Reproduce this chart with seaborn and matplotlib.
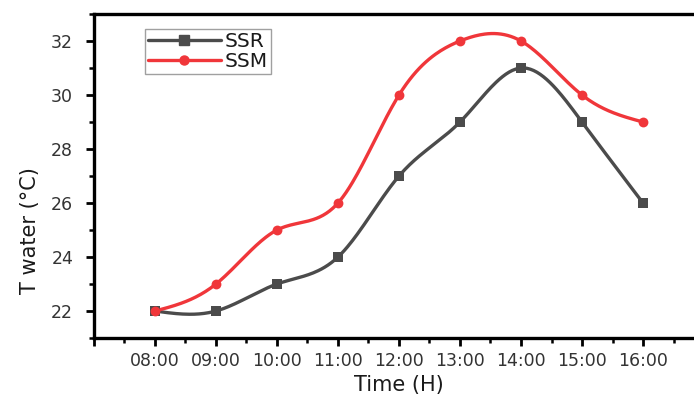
import numpy as np
import pandas as pd
import matplotlib
matplotlib.use("Agg")
import matplotlib.pyplot as plt
import seaborn as sns
from matplotlib.ticker import FixedLocator, FixedFormatter

hours = [8, 9, 10, 11, 12, 13, 14, 15, 16]
time_labels = ["08:00", "09:00", "10:00", "11:00", "12:00", "13:00", "14:00", "15:00", "16:00"]
ssr = [22, 22, 23, 24, 27, 29, 31, 29, 26]
ssm = [22, 23, 25, 26, 30, 32, 32, 30, 29]


def natural_spline(x, y, n=300):
    x = np.asarray(x, float); y = np.asarray(y, float)
    k = len(x); h = np.diff(x)
    A = np.zeros((k, k)); b = np.zeros(k)
    A[0, 0] = A[-1, -1] = 1
    for i in range(1, k - 1):
        A[i, i - 1] = h[i - 1]; A[i, i] = 2 * (h[i - 1] + h[i]); A[i, i + 1] = h[i]
        b[i] = 3 * ((y[i + 1] - y[i]) / h[i] - (y[i] - y[i - 1]) / h[i - 1])
    c = np.linalg.solve(A, b)
    bb = (np.diff(y) / h) - h * (2 * c[:-1] + c[1:]) / 3
    d = np.diff(c) / (3 * h)
    xs = np.linspace(x[0], x[-1], n)
    idx = np.clip(np.searchsorted(x, xs) - 1, 0, k - 2)
    dx = xs - x[idx]
    ys = y[idx] + bb[idx] * dx + c[idx] * dx**2 + d[idx] * dx**3
    return xs, ys


sns.set_style("white")
plt.rcParams["font.family"] = ["DejaVu Sans"]

fig = plt.figure(figsize=(6.94, 3.94), dpi=100)
ax = fig.add_axes([94 / 694, 56 / 394, 610 / 694, 324 / 394])

c_ssr = "#4b4b4b"
c_ssm = "#f0363a"
lw = 2.4

for vals, col, mk, lab, ms in [(ssr, c_ssr, "s", "SSR", 50), (ssm, c_ssm, "o", "SSM", 50)]:
    xs, ys = natural_spline(hours, vals)
    sns.lineplot(x=xs, y=ys, ax=ax, color=col, lw=lw, legend=False)
    sns.scatterplot(x=hours, y=vals, ax=ax, color=col, marker=mk, s=ms,
                    edgecolor=col, linewidth=0, legend=False, zorder=3)
    ax.plot([], [], color=col, lw=lw, marker=mk, ms=6.5, label=lab)

ax.set_xlim(7, 17)
ax.set_ylim(21, 33)
ax.xaxis.set_major_locator(FixedLocator([7] + hours + [17]))
ax.xaxis.set_major_formatter(FixedFormatter([""] + time_labels + [""]))
ax.xaxis.set_minor_locator(FixedLocator(np.arange(7.5, 17, 1.0)))
ax.yaxis.set_major_locator(FixedLocator([22, 24, 26, 28, 30, 32]))
ax.yaxis.set_minor_locator(FixedLocator([21, 23, 25, 27, 29, 31, 33]))

for s in ["left", "bottom", "top", "right"]:
    ax.spines[s].set_linewidth(2.4)
    ax.spines[s].set_color("black")

ax.tick_params(axis="both", which="major", direction="out", length=6, width=2,
               labelsize=12.5, colors="black", labelcolor="#333333",
               bottom=True, left=True)
ax.tick_params(axis="both", which="minor", direction="out", length=3.5, width=1.8,
               colors="black", bottom=True, left=True)
ax.tick_params(axis="x", which="major", pad=4)
ax.tick_params(axis="y", which="major", pad=9)

ax.set_xlabel("Time (H)", fontsize=15, color="#1a1a1a", labelpad=4)
ax.set_ylabel("T water (°C)", fontsize=15, color="#1a1a1a")
ax.yaxis.set_label_coords(-0.0885, 0.333)

leg = ax.legend(loc="upper left", bbox_to_anchor=(0.0836, 0.954), fontsize=14.5,
                frameon=True, fancybox=False, handlelength=3.6, handletextpad=0.2,
                borderpad=0.15, labelspacing=0.05, borderaxespad=0)
leg.get_frame().set_edgecolor("#888888")
leg.get_frame().set_linewidth(1)
for t in leg.get_texts():
    t.set_color("#1a1a1a")

fig.savefig("out.png", dpi=100)
